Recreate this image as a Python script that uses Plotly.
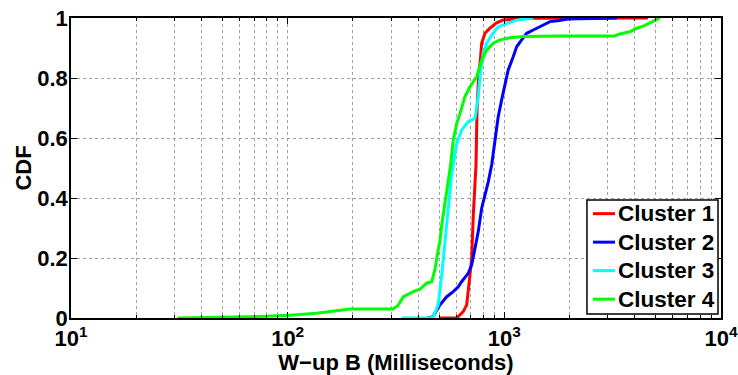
import plotly.graph_objects as go

# Wake-up time samples (ms) and their empirical CDF, per cluster
c1_ms = [499, 603, 646, 670, 694, 707, 719, 732, 740, 748, 760, 775, 786, 814, 858, 921, 985, 1313, 4600]
c1_cdf = [0, 0, 0.021, 0.043, 0.143, 0.2, 0.343, 0.454, 0.51, 0.69, 0.8, 0.86, 0.916, 0.949, 0.966, 0.984, 0.993, 0.999, 1.0]

c2_ms = [444, 468, 504, 542, 581, 613, 635, 681, 707, 732, 758, 786, 814, 843, 874, 905, 937, 972,
         1006, 1042, 1099, 1140, 1202, 1268, 1360, 1460, 1540, 1624, 1768, 1966, 3308]
c2_cdf = [0, 0.004, 0.043, 0.071, 0.088, 0.104, 0.121, 0.149, 0.177, 0.232, 0.288, 0.366, 0.41, 0.454,
          0.51, 0.593, 0.671, 0.727, 0.782, 0.827, 0.871, 0.904, 0.927, 0.949, 0.96, 0.971, 0.977,
          0.988, 0.991, 0.997, 1.0]

c3_ms = [336, 454, 470, 495, 514, 532, 551, 571, 581, 603, 635, 681, 732, 758, 772, 799, 829, 874,
         937, 1025, 1140, 1360]
c3_cdf = [0, 0, 0.004, 0.043, 0.143, 0.254, 0.366, 0.477, 0.51, 0.582, 0.627, 0.654, 0.666, 0.738,
          0.804, 0.882, 0.916, 0.943, 0.971, 0.982, 0.993, 1.0]

c4_ms = [31.1, 67, 102.5, 136, 168, 194, 307, 324, 342, 380, 408, 438, 462, 478, 495, 504, 514, 532,
         551, 565, 581, 603, 624, 658, 694, 745, 786, 829, 889, 954, 1061, 1223, 1806, 3239, 3416,
         3798, 4078, 4375, 4697, 4955, 5224]
c4_cdf = [0, 0.004, 0.009, 0.016, 0.024, 0.03, 0.03, 0.043, 0.071, 0.088, 0.096, 0.116, 0.121, 0.16,
          0.227, 0.254, 0.31, 0.388, 0.466, 0.51, 0.593, 0.649, 0.682, 0.738, 0.771, 0.804, 0.86,
          0.893, 0.916, 0.927, 0.934, 0.938, 0.94, 0.94, 0.947, 0.954, 0.966, 0.973, 0.984, 0.991, 1.0]

series = [
    ("Cluster 1", c1_ms, c1_cdf, "#FF0000"),
    ("Cluster 2", c2_ms, c2_cdf, "#0000FF"),
    ("Cluster 3", c3_ms, c3_cdf, "#00FFFF"),
    ("Cluster 4", c4_ms, c4_cdf, "#00FF00"),
]

x_major = [10, 100, 1000, 10000]
x_major_text = ["10<sup>1</sup>", "10<sup>2</sup>", "10<sup>3</sup>", "10<sup>4</sup>"]
x_minor = [m * d for d in (10, 100, 1000) for m in range(2, 10)]
y_ticks = [0, 0.2, 0.4, 0.6, 0.8, 1]
y_text = ["0", "0.2", "0.4", "0.6", "0.8", "1"]

FONT = "Liberation Sans, Arial, Helvetica, sans-serif"
fs = 22
bold = dict(family=FONT, size=fs, color="black", weight="bold")
leg_font = dict(family=FONT, size=22.5, color="black", weight="bold")

fig = go.Figure()
for name, xs, ys, col in series:
    fig.add_trace(go.Scatter(x=xs, y=ys, mode="lines", name=name,
                             line=dict(color=col, width=3), showlegend=False))

# Boxed legend in the lower-right corner of the axes (paper coordinates)
leg_x0, leg_x1, leg_y0, leg_y1 = 0.7938, 0.9954, 0.0133, 0.3933
row_step = (leg_y1 - leg_y0) / 4
shapes = [dict(type="rect", xref="paper", yref="paper", x0=leg_x0, x1=leg_x1,
               y0=leg_y0, y1=leg_y1, line=dict(color="black", width=1.5),
               fillcolor="white", layer="above")]
annotations = []
for i, (name, _, _, col) in enumerate(series):
    yc = leg_y1 - row_step * (i + 0.5) + 0.002
    shapes.append(dict(type="line", xref="paper", yref="paper",
                       x0=leg_x0 + 0.0093, x1=leg_x0 + 0.0431, y0=yc, y1=yc,
                       line=dict(color=col, width=3), layer="above"))
    annotations.append(dict(xref="paper", yref="paper", x=leg_x0 + 0.0440, y=yc,
                            xanchor="left", yanchor="middle", text=name,
                            showarrow=False, font=leg_font))

grid = dict(gridcolor="#a0a0a0", griddash="dot", gridwidth=1)

fig.update_layout(
    width=738, height=375,
    margin=dict(l=71, r=17, t=18, b=57),
    paper_bgcolor="white", plot_bgcolor="white",
    font=dict(family=FONT, size=fs, color="black"),
    showlegend=False,
    shapes=shapes,
    annotations=annotations,
    xaxis=dict(
        type="log", range=[1, 4], automargin=False,
        tickmode="array", tickvals=x_major, ticktext=x_major_text,
        tickfont=bold,
        ticks="inside", ticklen=6, tickcolor="black", tickwidth=1,
        showline=True, linecolor="black", linewidth=1.5, mirror="ticks",
        showgrid=True, **grid,
        zeroline=False,
        minor=dict(tickmode="array", tickvals=x_minor, ticks="inside", ticklen=3,
                   tickcolor="black", showgrid=True, **grid),
        title=dict(text="W\u2212up B (Milliseconds)", standoff=2, font=bold),
    ),
    yaxis=dict(
        range=[0, 1], automargin=False,
        tickmode="array", tickvals=y_ticks, ticktext=y_text,
        tickfont=bold, ticklabelstandoff=-3,
        ticks="inside", ticklen=6, tickcolor="black", tickwidth=1,
        showline=True, linecolor="black", linewidth=1.5, mirror="ticks",
        showgrid=True, **grid,
        zeroline=False,
        title=dict(text="CDF", standoff=0, font=bold),
    ),
)

fig.write_html("out.html")
